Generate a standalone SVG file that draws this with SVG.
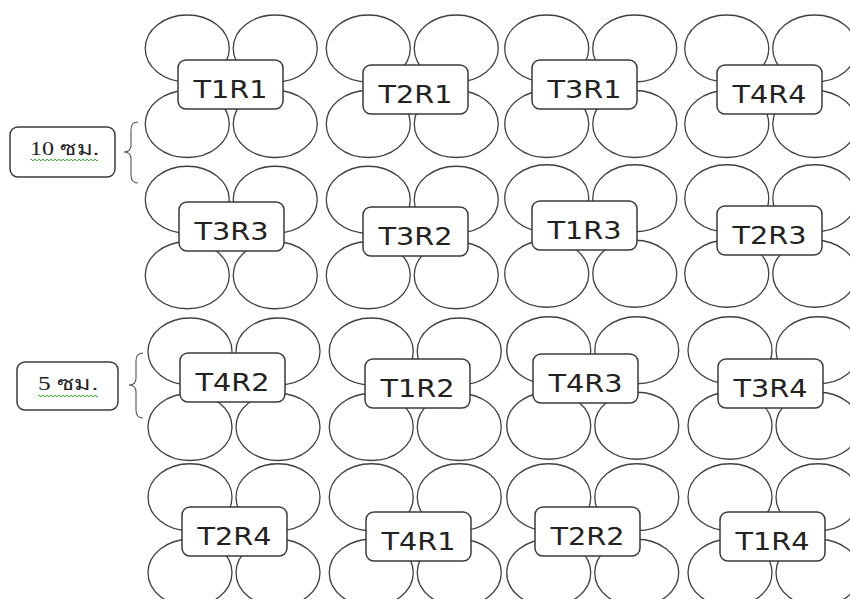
<svg xmlns="http://www.w3.org/2000/svg" width="850" height="599" viewBox="0 0 850 599">
<style>
.petal{fill:none;stroke:#404040;stroke-width:1.3}
.box{fill:#fff;stroke:#3a3a3a;stroke-width:1.5}
.lbl{font-family:"DejaVu Sans","Liberation Sans",sans-serif;font-size:25px;fill:#222;text-anchor:middle}
.side{font-family:"Liberation Serif","DejaVu Serif",serif;font-size:19px;fill:#222}
.brace{fill:none;stroke:#555;stroke-width:1.1}
.squig{fill:none;stroke:#3aa83a;stroke-width:1}
</style>
<defs>
<g id="petals">
<ellipse class="petal" cx="-44" cy="-37.75" rx="42" ry="33.5"/>
<ellipse class="petal" cx="44" cy="-37.75" rx="42" ry="33.5"/>
<ellipse class="petal" cx="-44" cy="37.75" rx="42" ry="33.5"/>
<ellipse class="petal" cx="44" cy="37.75" rx="42" ry="33.5"/>
</g>
</defs>
<rect width="850" height="599" fill="#fff"/>

<g id="side-10">
<rect class="box" x="10" y="127" width="105" height="50" rx="8"/>
<text class="side" x="30" y="155" textLength="69" lengthAdjust="spacingAndGlyphs">10 ซม.</text>
<path class="squig" d="M30,160 q1,-1.6 2,0 t2,0 t2,0 t2,0 t2,0 t2,0 t2,0 t2,0 t2,0 t2,0 t2,0 t2,0 t2,0 t2,0 t2,0 t2,0 t2,0 t2,0 t2,0 t2,0 t2,0 t2,0 t2,0 t2,0 t2,0 t2,0 t2,0 t2,0 t2,0 t2,0 t2,0 t2,0 t2,0 t2,0"/>
</g>
<g id="side-5">
<rect class="box" x="17" y="362" width="101" height="48" rx="8"/>
<text class="side" x="38" y="390" textLength="60" lengthAdjust="spacingAndGlyphs">5 ซม.</text>
<path class="squig" d="M38,396 q1,-1.6 2,0 t2,0 t2,0 t2,0 t2,0 t2,0 t2,0 t2,0 t2,0 t2,0 t2,0 t2,0 t2,0 t2,0 t2,0 t2,0 t2,0 t2,0 t2,0 t2,0 t2,0 t2,0 t2,0 t2,0 t2,0 t2,0 t2,0 t2,0 t2,0 t2,0"/>
</g>

<g id="connectors">
<path class="brace" d="M138,122 Q131,122 131,130 L131,145 Q131,152 124,152 Q131,152 131,159 L131,175 Q131,183 138,183"/>
<path class="brace" d="M143,353 Q136,353 136,361 L136,378 Q136,385 129,385 Q136,385 136,392 L136,410 Q136,418 143,418"/>
</g>

<g id="T1R1"><use href="#petals" x="231.25" y="86.25"/><rect class="box" x="178" y="60" width="105" height="49" rx="8"/><text class="lbl" x="230.5" y="98" textLength="74" lengthAdjust="spacingAndGlyphs">T1R1</text></g>
<g id="T2R1"><use href="#petals" x="412.25" y="86.25"/><rect class="box" x="363" y="65" width="105" height="49" rx="8"/><text class="lbl" x="415.5" y="103" textLength="74" lengthAdjust="spacingAndGlyphs">T2R1</text></g>
<g id="T3R1"><use href="#petals" x="590.75" y="86.25"/><rect class="box" x="532" y="60" width="105" height="49" rx="8"/><text class="lbl" x="584.5" y="98" textLength="74" lengthAdjust="spacingAndGlyphs">T3R1</text></g>
<g id="T4R4"><use href="#petals" x="770.75" y="86.25"/><rect class="box" x="717" y="65" width="105" height="49" rx="8"/><text class="lbl" x="769.5" y="103" textLength="74" lengthAdjust="spacingAndGlyphs">T4R4</text></g>

<g id="T3R3"><use href="#petals" x="231.25" y="237.5"/><rect class="box" x="179" y="202" width="105" height="49" rx="8"/><text class="lbl" x="231.5" y="240" textLength="74" lengthAdjust="spacingAndGlyphs">T3R3</text></g>
<g id="T3R2"><use href="#petals" x="412.25" y="237.5"/><rect class="box" x="363" y="207" width="105" height="49" rx="8"/><text class="lbl" x="415.5" y="245" textLength="74" lengthAdjust="spacingAndGlyphs">T3R2</text></g>
<g id="T1R3"><use href="#petals" x="590.75" y="236"/><rect class="box" x="532" y="201" width="105" height="49" rx="8"/><text class="lbl" x="584.5" y="239" textLength="74" lengthAdjust="spacingAndGlyphs">T1R3</text></g>
<g id="T2R3"><use href="#petals" x="770.75" y="236"/><rect class="box" x="717" y="206" width="105" height="49" rx="8"/><text class="lbl" x="769.5" y="244" textLength="74" lengthAdjust="spacingAndGlyphs">T2R3</text></g>

<g id="T4R2"><use href="#petals" x="234" y="389.25"/><rect class="box" x="180" y="353" width="105" height="49" rx="8"/><text class="lbl" x="232.5" y="391" textLength="74" lengthAdjust="spacingAndGlyphs">T4R2</text></g>
<g id="T1R2"><use href="#petals" x="415.25" y="389.25"/><rect class="box" x="365" y="359" width="105" height="49" rx="8"/><text class="lbl" x="417.5" y="397" textLength="74" lengthAdjust="spacingAndGlyphs">T1R2</text></g>
<g id="T4R3"><use href="#petals" x="592.75" y="388"/><rect class="box" x="533" y="354" width="105" height="49" rx="8"/><text class="lbl" x="585.5" y="392" textLength="74" lengthAdjust="spacingAndGlyphs">T4R3</text></g>
<g id="T3R4"><use href="#petals" x="774" y="388"/><rect class="box" x="718" y="359" width="105" height="49" rx="8"/><text class="lbl" x="770.5" y="397" textLength="74" lengthAdjust="spacingAndGlyphs">T3R4</text></g>

<g id="T2R4"><use href="#petals" x="234" y="535"/><rect class="box" x="182" y="507" width="105" height="49" rx="8"/><text class="lbl" x="234.5" y="545" textLength="74" lengthAdjust="spacingAndGlyphs">T2R4</text></g>
<g id="T4R1"><use href="#petals" x="415.25" y="535"/><rect class="box" x="366" y="512" width="105" height="49" rx="8"/><text class="lbl" x="418.5" y="550" textLength="74" lengthAdjust="spacingAndGlyphs">T4R1</text></g>
<g id="T2R2"><use href="#petals" x="592.75" y="535"/><rect class="box" x="535" y="507" width="105" height="49" rx="8"/><text class="lbl" x="587.5" y="545" textLength="74" lengthAdjust="spacingAndGlyphs">T2R2</text></g>
<g id="T1R4"><use href="#petals" x="774" y="535"/><rect class="box" x="720" y="512" width="105" height="49" rx="8"/><text class="lbl" x="772.5" y="550" textLength="74" lengthAdjust="spacingAndGlyphs">T1R4</text></g>
</svg>
